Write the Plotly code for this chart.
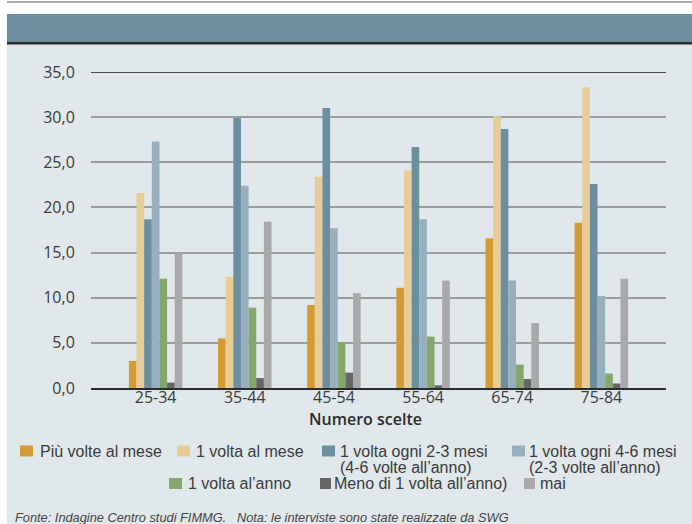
import plotly.graph_objects as go

# Age groups on the x axis
fasce_eta = ["25-34", "35-44", "45-54", "55-64", "65-74", "75-84"]

# Percentages per frequency of visits, one list per series (one value per age group)
piu_volte_mese = [3.0, 5.5, 9.2, 11.1, 16.6, 18.3]
una_volta_mese = [21.6, 12.3, 23.4, 24.1, 30.1, 33.3]
ogni_2_3_mesi = [18.7, 29.9, 31.0, 26.7, 28.7, 22.6]
ogni_4_6_mesi = [27.3, 22.4, 17.7, 18.7, 11.9, 10.2]
una_volta_anno = [12.1, 8.9, 5.1, 5.7, 2.6, 1.6]
meno_una_anno = [0.6, 1.1, 1.7, 0.3, 1.0, 0.5]
mai = [15.0, 18.4, 10.5, 11.9, 7.2, 12.1]

serie = [
    ("Più volte al mese", piu_volte_mese, "#d49b35"),
    ("1 volta al mese", una_volta_mese, "#e8cc98"),
    ("1 volta ogni 2-3 mesi (4-6 volte all’anno)", ogni_2_3_mesi, "#6c8f9f"),
    ("1 volta ogni 4-6 mesi (2-3 volte all’anno)", ogni_4_6_mesi, "#98b0bd"),
    ("1 volta al’anno", una_volta_anno, "#84a86b"),
    ("Meno di 1 volta all’anno)", meno_una_anno, "#666666"),
    ("mai", mai, "#a9a9a9"),
]

# Legend text, split into lines as laid out under the chart
legenda_righe = [
    ["Più volte al mese"],
    ["1 volta al mese"],
    ["1 volta ogni 2-3 mesi", "(4-6 volte all’anno)"],
    ["1 volta ogni 4-6 mesi", "(2-3 volte all’anno)"],
    ["1 volta al’anno"],
    ["Meno di 1 volta all’anno)"],
    ["mai"],
]

W_FIG, H_FIG = 692, 524
L, R, T, B = 91, 26, 72, 136
PW, PH = W_FIG - L - R, H_FIG - T - B


def fx(px):
    return (px - L) / PW


def fy(py):
    return (H_FIG - B - py) / PH


BG = "#e1e8eb"
TXT = "#3a3a3a"
LEG_FONT = "Liberation Sans, Arial, sans-serif"
AX_FONT = "Open Sans, sans-serif"

fig = go.Figure()
for nome, valori, colore in serie:
    fig.add_trace(go.Bar(
        x=fasce_eta, y=valori, name=nome,
        marker=dict(color=colore, line=dict(width=0)),
        showlegend=False,
    ))

shapes = [
    # panel background
    dict(type="rect", xref="paper", yref="paper", x0=fx(7), x1=fx(W_FIG + 2),
         y0=fy(H_FIG + 2), y1=fy(44), fillcolor=BG, line=dict(width=0), layer="below"),
    # header band
    dict(type="rect", xref="paper", yref="paper", x0=fx(7), x1=fx(W_FIG + 2),
         y0=fy(42), y1=fy(14), fillcolor="#6b8f9e", line=dict(width=0), layer="below"),
    dict(type="rect", xref="paper", yref="paper", x0=fx(7), x1=fx(W_FIG + 2),
         y0=fy(44.5), y1=fy(42), fillcolor="#2b2b2b", line=dict(width=0), layer="below"),
    # thin rule at the very top
    dict(type="line", xref="paper", yref="paper", x0=fx(7), x1=fx(W_FIG + 2),
         y0=fy(2), y1=fy(2), line=dict(color="#8c8c8c", width=1.5), layer="below"),
    # darker top gridline at 35
    dict(type="line", xref="paper", yref="y", x0=0, x1=1, y0=35, y1=35,
         line=dict(color="#4a4a4a", width=2), layer="below"),
]

annotations = []

# Legend: markers and labels
leg_pos = [
    # (marker x0, marker x1, text x, row centre y)
    (20, 33, 38, 451),
    (177, 190, 194, 451),
    (322, 335, 338, 451),
    (512, 525, 527, 451),
    (169, 182, 186, 483.5),
    (320, 331, 332, 483.5),
    (524, 535, 538, 483.5),
]
for (nome, _, colore), righe, (mx0, mx1, tx, yc) in zip(serie, legenda_righe, leg_pos):
    shapes.append(dict(type="rect", xref="paper", yref="paper",
                       x0=fx(mx0), x1=fx(mx1), y0=fy(yc + 5.5), y1=fy(yc - 5.5),
                       fillcolor=colore, line=dict(width=0)))
    for i, riga in enumerate(righe):
        annotations.append(dict(
            xref="paper", yref="paper", x=fx(tx), y=fy(yc + i * 16),
            text=riga, showarrow=False, xanchor="left", yanchor="middle",
            font=dict(family=LEG_FONT, size=16, color=TXT),
        ))

# Axis title
annotations.append(dict(
    xref="paper", yref="paper", x=fx(365), y=fy(418.5), text="Numero scelte",
    showarrow=False, xanchor="center", yanchor="middle",
    font=dict(family=AX_FONT, size=16, color="#2a2a2a", weight=600),
))

# Source note
annotations.append(dict(
    xref="paper", yref="paper", x=fx(13), y=fy(517),
    text="Fonte: Indagine Centro studi FIMMG.   Nota: le interviste sono state realizzate da SWG",
    showarrow=False, xanchor="left", yanchor="middle",
    font=dict(family=LEG_FONT, size=12.8, color="#444444", style="italic"),
))

fig.update_layout(
    width=W_FIG, height=H_FIG,
    margin=dict(l=L, r=R, t=T, b=B, pad=0),
    paper_bgcolor="white", plot_bgcolor="rgba(0,0,0,0)",
    barmode="group", bargap=0.4, bargroupgap=0,
    separators=",.",
    shapes=shapes, annotations=annotations,
    xaxis=dict(
        type="category", range=[-0.725, 5.725], showgrid=False,
        showline=True, linecolor="#2a2a2a", linewidth=2,
        ticks="", ticklabelstandoff=-6,
        tickfont=dict(family=AX_FONT, size=16, color=TXT),
        fixedrange=True,
    ),
    yaxis=dict(
        range=[0, 35], dtick=5, tickformat=".1f",
        showgrid=True, gridcolor="#9c9c9c", gridwidth=1.6,
        zeroline=False, showline=False,
        ticks="outside", ticklen=12, tickcolor="rgba(0,0,0,0)",
        tickfont=dict(family=AX_FONT, size=16, color=TXT),
        fixedrange=True,
    ),
)

fig.write_html("out.html")
